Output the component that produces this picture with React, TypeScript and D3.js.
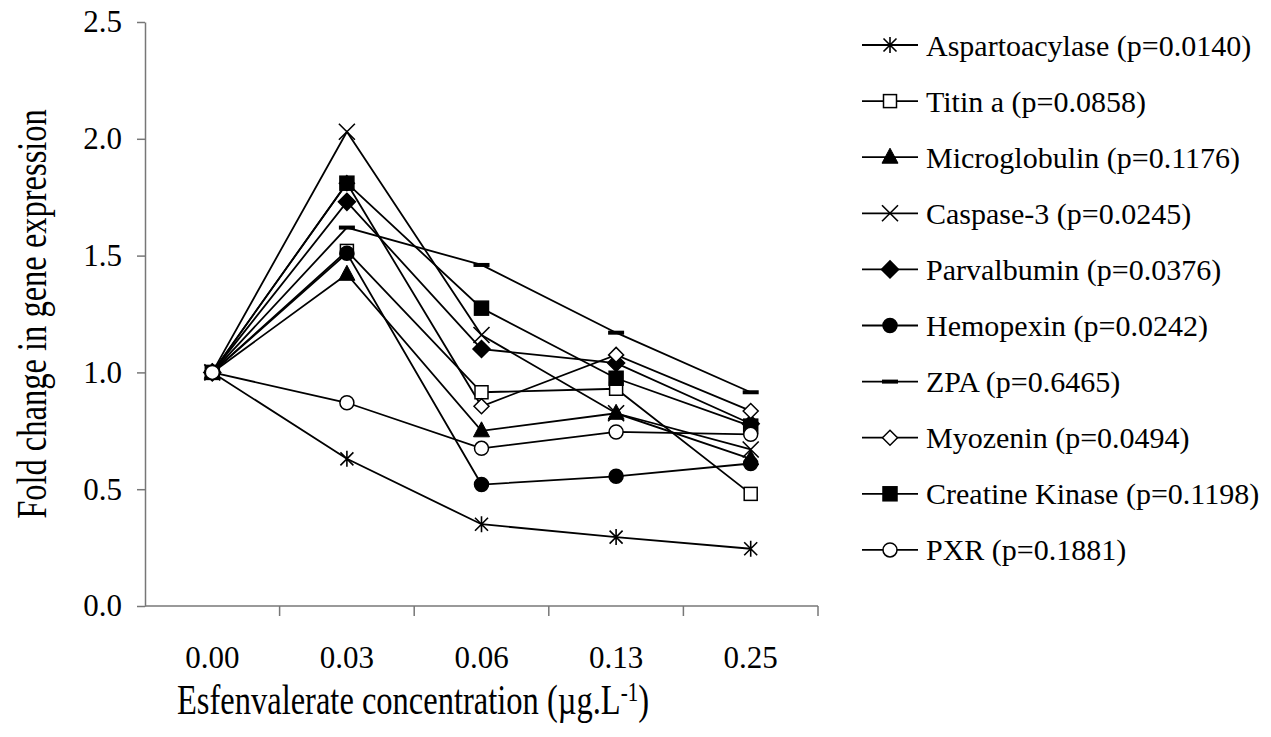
import React, { useEffect, useRef } from 'react'
import * as d3 from 'd3'

const categories = ['0.00', '0.03', '0.06', '0.13', '0.25']
const yTicks = [0, 0.5, 1.0, 1.5, 2.0, 2.5]

const aspartoacylase = [1.0, 0.63, 0.35, 0.295, 0.245]
const titinA = [1.0, 1.52, 0.915, 0.93, 0.48]
const microglobulin = [1.0, 1.42, 0.75, 0.825, 0.63]
const caspase3 = [1.0, 2.03, 1.16, 0.825, 0.67]
const parvalbumin = [1.0, 1.73, 1.1, 1.04, 0.78]
const hemopexin = [1.0, 1.51, 0.52, 0.555, 0.61]
const zpa = [1.0, 1.62, 1.46, 1.17, 0.915]
const myozenin = [1.0, 1.81, 0.855, 1.075, 0.835]
const creatineKinase = [1.0, 1.81, 1.275, 0.975, 0.77]
const pxr = [1.0, 0.87, 0.675, 0.745, 0.735]

const seriesLabels = [
  'Aspartoacylase (p=0.0140)',
  'Titin a (p=0.0858)',
  'Microglobulin (p=0.1176)',
  'Caspase-3 (p=0.0245)',
  'Parvalbumin (p=0.0376)',
  'Hemopexin (p=0.0242)',
  'ZPA (p=0.6465)',
  'Myozenin (p=0.0494)',
  'Creatine Kinase (p=0.1198)',
  'PXR (p=0.1881)',
]
const seriesValues = [aspartoacylase, titinA, microglobulin, caspase3, parvalbumin, hemopexin, zpa, myozenin, creatineKinase, pxr]
const seriesMarkers = ['asterisk', 'squareOpen', 'triangle', 'cross', 'diamond', 'circle', 'dash', 'diamondOpen', 'square', 'circleOpen']

const W = 1271
const H = 737
const FONT = '"Liberation Serif", "Times New Roman", serif'

type G = d3.Selection<SVGGElement, unknown, null, undefined>

// 画一个标记
function drawMarker(g: G, type: string, x: number, y: number) {
  const m = g.append('g').attr('transform', `translate(${x},${y})`)
  if (type === 'asterisk') {
    m.append('path')
      .attr('d', 'M0,-8V8M-6.5,-6.5L6.5,6.5M-6.5,6.5L6.5,-6.5')
      .attr('stroke', '#000').attr('stroke-width', 1.6).attr('fill', 'none')
  } else if (type === 'cross') {
    m.append('path')
      .attr('d', 'M-8,-8L8,8M-8,8L8,-8')
      .attr('stroke', '#000').attr('stroke-width', 1.6).attr('fill', 'none')
  } else if (type === 'squareOpen' || type === 'square') {
    const s = type === 'square' ? 7 : 6.5
    m.append('rect')
      .attr('x', -s).attr('y', -s).attr('width', 2 * s).attr('height', 2 * s)
      .attr('fill', type === 'square' ? '#000' : '#fff')
      .attr('stroke', '#000').attr('stroke-width', 1.5)
  } else if (type === 'triangle') {
    m.append('path')
      .attr('d', 'M0,-9L8,6L-8,6Z')
      .attr('fill', '#000').attr('stroke', '#000').attr('stroke-width', 1)
  } else if (type === 'diamond' || type === 'diamondOpen') {
    const s = type === 'diamond' ? 8.5 : 7.5
    m.append('path')
      .attr('d', `M0,${-s}L${s},0L0,${s}L${-s},0Z`)
      .attr('fill', type === 'diamond' ? '#000' : '#fff')
      .attr('stroke', '#000').attr('stroke-width', 1.5)
  } else if (type === 'circle' || type === 'circleOpen') {
    m.append('circle')
      .attr('r', 7)
      .attr('fill', type === 'circle' ? '#000' : '#fff')
      .attr('stroke', '#000').attr('stroke-width', 1.5)
  } else if (type === 'dash') {
    m.append('rect')
      .attr('x', -8).attr('y', -2).attr('width', 16).attr('height', 4)
      .attr('fill', '#000')
  }
}

const App: React.FC = () => {
  const svgRef = useRef<SVGSVGElement>(null)

  useEffect(() => {
    const svg = d3.select(svgRef.current)
    svg.selectAll('*').remove()

    const left = 145
    const right = 818
    const top = 22
    const bottom = 606

    const xScale = d3.scaleBand<string>().domain(categories).range([left, right])
    const yScale = d3.scaleLinear().domain([0, 2.5]).range([bottom, top])
    const cx = (c: string) => (xScale(c) || 0) + xScale.bandwidth() / 2

    const root = svg.append('g') as unknown as G

    // Y轴
    const yAxis = root.append('g')
      .attr('transform', `translate(${left},0)`)
      .call(d3.axisLeft(yScale).tickValues(yTicks).tickFormat(d3.format('.1f')).tickSize(8).tickSizeOuter(0).tickPadding(15))
    yAxis.selectAll('path, line').attr('stroke', '#777').attr('stroke-width', 1.5)
    yAxis.selectAll('text')
      .attr('font-family', FONT).attr('font-size', 31).attr('fill', '#000')

    // X轴
    root.append('line')
      .attr('x1', left).attr('x2', right).attr('y1', bottom).attr('y2', bottom)
      .attr('stroke', '#777').attr('stroke-width', 1.5)
    const boundaries = categories.map(c => xScale(c) || 0).concat([right]).slice(1)
    root.selectAll('.xtick')
      .data(boundaries)
      .enter()
      .append('line')
      .attr('x1', d => d).attr('x2', d => d)
      .attr('y1', bottom).attr('y2', bottom + 10)
      .attr('stroke', '#777').attr('stroke-width', 1.5)
    root.selectAll('.xlabel')
      .data(categories)
      .enter()
      .append('text')
      .attr('x', d => cx(d))
      .attr('y', 668)
      .attr('text-anchor', 'middle')
      .attr('font-family', FONT).attr('font-size', 31)
      .text(d => d)

    // 轴标题 (纵向拉伸以贴近原图字形)
    root.append('text')
      .attr('transform', `translate(46,${(top + bottom) / 2}) rotate(-90) scale(1,1.3)`)
      .attr('text-anchor', 'middle')
      .attr('font-family', FONT).attr('font-size', 32.5)
      .text('Fold change in gene expression')

    const xt = root.append('text')
      .attr('transform', 'translate(413,714) scale(1,1.3)')
      .attr('text-anchor', 'middle')
      .attr('font-family', FONT).attr('font-size', 32.5)
    xt.append('tspan').text('Esfenvalerate concentration (µg.L')
    xt.append('tspan').attr('dy', -10).attr('font-size', 21).text('-1')
    xt.append('tspan').attr('dy', 10).text(')')

    // 折线
    const line = d3.line<number>()
      .x((_, i) => cx(categories[i]))
      .y(d => yScale(d))

    seriesValues.forEach(vals => {
      root.append('path')
        .datum(vals)
        .attr('fill', 'none')
        .attr('stroke', '#000')
        .attr('stroke-width', 1.8)
        .attr('d', line)
    })

    seriesValues.forEach((vals, si) => {
      vals.forEach((v, i) => drawMarker(root, seriesMarkers[si], cx(categories[i]), yScale(v)))
    })

    // 图例
    const legend = root.append('g').attr('transform', 'translate(862,45)')
    seriesLabels.forEach((label, i) => {
      const row = legend.append('g').attr('transform', `translate(0,${i * 56.1})`) as unknown as G
      row.append('line')
        .attr('x1', 0).attr('x2', 56).attr('y1', 0).attr('y2', 0)
        .attr('stroke', '#000').attr('stroke-width', 1.8)
      drawMarker(row, seriesMarkers[i], 28, 0)
      row.append('text')
        .attr('x', 64).attr('y', 0).attr('dy', '0.35em')
        .attr('font-family', FONT).attr('font-size', 30)
        .text(label)
    })
  }, [])

  return (
    <svg
      ref={svgRef}
      width={W}
      height={H}
      style={{ position: 'absolute', left: 0, top: 0, background: '#fff' }}
    />
  )
}

export default App
